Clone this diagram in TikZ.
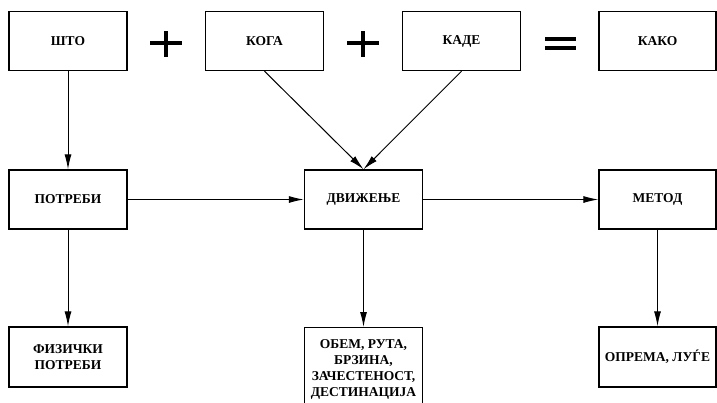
\documentclass[tikz,border=0pt]{standalone}
\usepackage{fontspec}
\setmainfont{Liberation Serif}
\usetikzlibrary{arrows.meta}

\tikzset{
  boxnode/.style={draw, line width=1.4pt, minimum width=118pt, minimum height=59pt,
    inner sep=1pt, align=center, font=\fontsize{13.5}{16}\selectfont\bfseries},
  flowarrow/.style={line width=1pt, -{Latex[length=15pt,width=7pt]}},
  opsign/.style={line width=3.6pt}
}

\begin{document}
\begin{tikzpicture}[x=1pt,y=-1pt]
\clip (0,0) rectangle (717,402);
\fill[white] (0,0) rectangle (717,402);
% top row
\node[boxnode] (sto) at (68,41) {ШТО};
\node[boxnode] (koga) at (264.5,41) {КОГА};
\node[boxnode] (kade) at (461.5,41) {КАДЕ};
\node[boxnode, minimum width=117pt] (kako) at (657.5,41) {КАКО};
% plus and equals signs
\draw[opsign] (150,43)--(182,43) (166,31)--(166,57);
\draw[opsign] (347,43)--(379,43) (363,31)--(363,57);
\draw[opsign] (545,39)--(576,39) (545,48)--(576,48);
% middle row
\node[boxnode] (potrebi) at (68,199.5) {ПОТРЕБИ};
\node[boxnode] (dvizenje) at (363.5,199.5) {ДВИЖЕЊЕ};
\node[boxnode, minimum width=117pt] (metod) at (657.5,199.5) {МЕТОД};
% bottom row
\node[boxnode, minimum height=60pt] (fizicki) at (68,357) {ФИЗИЧКИ\\ПОТРЕБИ};
\node[boxnode, minimum height=84pt, anchor=north] (obem) at (363.5,327)
  {ОБЕМ, РУТА,\\БРЗИНА,\\ЗАЧЕСТЕНОСТ,\\ДЕСТИНАЦИЈА};
\node[boxnode, minimum width=117pt, minimum height=60pt] (oprema) at (657.5,357) {ОПРЕМА, ЛУЃЕ};
% arrows
\draw[flowarrow] (sto) -- (potrebi);
\draw[flowarrow] (koga.south) -- (dvizenje.north);
\draw[flowarrow] (kade.south) -- (dvizenje.north);
\draw[flowarrow] (potrebi) -- (dvizenje);
\draw[flowarrow] (dvizenje) -- (metod);
\draw[flowarrow] (potrebi) -- (fizicki);
\draw[flowarrow] (dvizenje) -- (obem);
\draw[flowarrow] (metod) -- (oprema);
\end{tikzpicture}
\end{document}
